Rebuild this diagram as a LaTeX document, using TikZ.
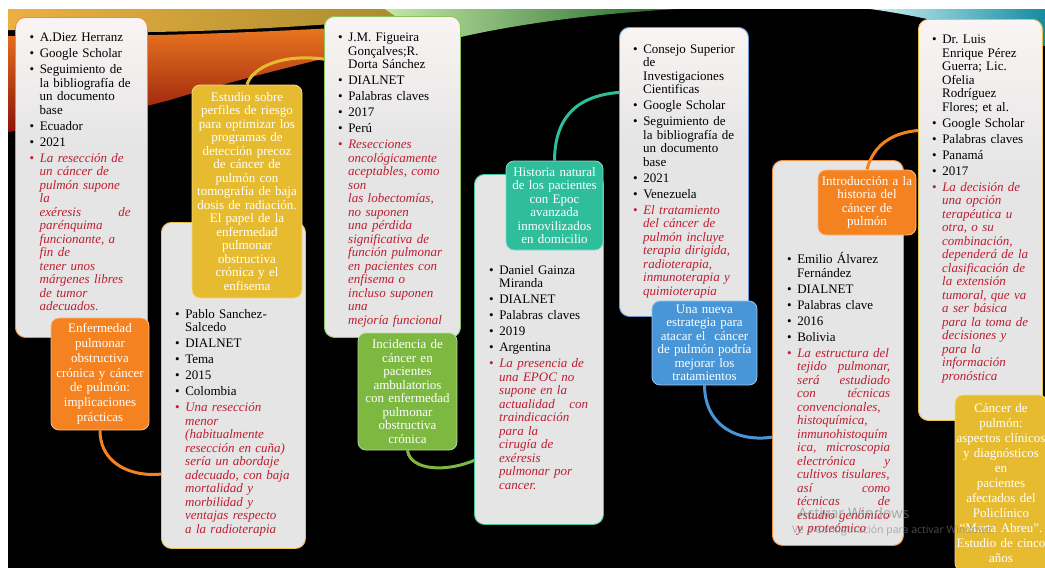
\documentclass[tikz,border=0pt]{standalone}
\usepackage{fontspec}
\setmainfont{Liberation Serif}
\newfontfamily\wmfont{Open Sans}
\pgfdeclarelayer{bgl}
\pgfdeclarelayer{conn}
\pgfdeclarelayer{conntwo}
\pgfdeclarelayer{gboxlayer}
\pgfdeclarelayer{fore}
\pgfsetlayers{bgl,conn,main,conntwo,gboxlayer,fore}

\definecolor{bgray}{RGB}{229,229,229}
\definecolor{btop}{RGB}{250,244,244}
\definecolor{rtext}{RGB}{190,30,48}
\definecolor{cOrange}{RGB}{245,130,32}
\definecolor{cYellow}{RGB}{231,187,48}
\definecolor{cGreen}{RGB}{125,185,65}
\definecolor{cTeal}{RGB}{46,190,155}
\definecolor{cBlue}{RGB}{72,150,215}
\definecolor{lOrange}{RGB}{240,140,60}
\definecolor{lYellow}{RGB}{232,192,70}
\definecolor{lGreen}{RGB}{140,195,90}
\definecolor{lTeal}{RGB}{70,195,165}
\definecolor{lBlue}{RGB}{100,155,210}
\definecolor{sGold}{RGB}{236,176,66}
\definecolor{sGoldD}{RGB}{150,130,40}
\definecolor{sOrange}{RGB}{244,128,34}
\definecolor{sRed}{RGB}{140,18,10}
\definecolor{sGreenL}{RGB}{195,232,165}
\definecolor{sGreenD}{RGB}{30,100,40}
\definecolor{sTealL}{RGB}{205,240,245}
\definecolor{sTealD}{RGB}{20,140,160}

\pgfdeclareverticalshading{boxshade}{100bp}{color(0bp)=(bgray); color(55bp)=(bgray); color(75bp)=(btop); color(100bp)=(btop)}

\newenvironment{blist}{\begin{list}{\textbullet}{\setlength{\leftmargin}{10pt}\setlength{\labelwidth}{4.5pt}\setlength{\labelsep}{5.5pt}\setlength{\itemsep}{2.5pt}\setlength{\parsep}{0pt}\setlength{\topsep}{0pt}\setlength{\partopsep}{0pt}\setlength{\itemindent}{0pt}\setlength{\listparindent}{0pt}}}{\end{list}}
\newcommand{\ritem}{\item[\textcolor{rtext}{\textbullet}]\leavevmode\color{rtext}\itshape}

\tikzset{
  panel/.style={rounded corners=10pt, line width=0.9pt, draw=#1, fill=bgray, anchor=north west, inner sep=0pt},
  panelshade/.style={panel=#1, shade, shading=boxshade},
  cnode/.style={rounded corners=8pt, fill=#1, draw=#1!55!white, line width=0.8pt, text=white, align=center, inner sep=0pt, font=\fontsize{13}{13.5}\selectfont},
  link/.style={line width=3pt, draw=#1},
  txt/.style={anchor=north west, inner sep=0pt, text width=#1, align=left, font=\fontsize{13}{13.5}\selectfont\frenchspacing},
  wm/.style={anchor=west, inner sep=0pt, text=gray, text opacity=0.6}
}

\begin{document}
\frenchspacing
\begin{tikzpicture}[x=1pt,y=-1pt]
\useasboundingbox (0,0) rectangle (1045,568);

% ---------- background ----------
\begin{pgfonlayer}{bgl}
\fill[white] (0,0) rectangle (1045,568);
\fill[black] (8,9) rectangle (1045,568);
\shade[left color=sGold, right color=sGoldD] (8,9) -- (520,9) .. controls (420,16) and (300,30) .. (150,32) .. controls (90,33) and (40,31) .. (8,30) -- cycle;
\shade[top color=sOrange, bottom color=sRed] (8,36) .. controls (150,38) and (350,30) .. (500,16) .. controls (380,45) and (250,75) .. (170,100) .. controls (110,116) and (50,126) .. (8,132) -- cycle;
\shade[left color=sGreenL, right color=sGreenD] (385,9) -- (680,9) .. controls (600,13) and (510,24) .. (440,42) .. controls (420,32) and (400,20) .. (385,9) -- cycle;
\shade[left color=sTealL, right color=sTealD] (870,9) -- (1045,9) -- (1045,46) .. controls (990,34) and (930,17) .. (870,9) -- cycle;
\end{pgfonlayer}

% ---------- boxes ----------
\node[panelshade=lOrange, minimum width=132pt, minimum height=320pt] (bA) at (15,17) {};
\node[panel=lYellow, minimum width=144pt, minimum height=326pt] (bB) at (161,222) {};
\node[panelshade=lGreen, minimum width=136pt, minimum height=321pt] (bC) at (324,16) {};
\node[panel=lTeal, minimum width=129pt, minimum height=350pt] (bD) at (474,174) {};
\node[panelshade=lBlue, minimum width=129pt, minimum height=289pt] (bE) at (619,27) {};
\node[panel=lOrange, minimum width=131pt, minimum height=385pt] (bF) at (772,160) {};
\begin{pgfonlayer}{gboxlayer}
\node[panelshade=lYellow, minimum width=124pt, minimum height=401pt] (bG) at (918,19) {};
\end{pgfonlayer}

\begin{pgfonlayer}{fore}
% ---------- box contents ----------
\node[txt=101pt] (tA) at (29.5,28) {\begin{blist}
\item A.Diez Herranz
\item Google Scholar
\item Seguimiento de\\ la bibliografía de\\ un documento\\ base
\item Ecuador
\item 2021
\ritem La resección de\\ un cáncer de\\ pulmón supone\\ la\\ exéresis\hfill de\\ parénquima\\ funcionante, a\\ fin de\\ tener unos\\ márgenes libres\\ de tumor\\ adecuados.
\end{blist}};

\node[txt=116pt] (tB) at (175,304.5) {\begin{blist}
\item Pablo Sanchez-\\Salcedo
\item DIALNET
\item Tema
\item 2015
\item Colombia
\ritem Una resección\\ menor\\ (habitualmente\\ resección en cuña)\\ sería un abordaje\\ adecuado, con baja\\ mortalidad y\\ morbilidad y\\ ventajas respecto\\ a la radioterapia
\end{blist}};

\node[txt=107pt] (tC) at (338,28) {\begin{blist}
\item J.M. Figueira\\ Gonçalves;R.\\ Dorta Sánchez
\item DIALNET
\item Palabras claves
\item 2017
\item Perú
\ritem Resecciones\\ oncológicamente\\ aceptables, como\\ son\\ las lobectomías,\\ no suponen\\ una pérdida\\ significativa de\\ función pulmonar\\ en pacientes con\\ enfisema o\\ incluso suponen\\ una\\ mejoría funcional
\end{blist}};

\node[txt=99pt] (tD) at (489,260.5) {\begin{blist}
\item Daniel Gainza\\ Miranda
\item DIALNET
\item Palabras claves
\item 2019
\item Argentina
\ritem La presencia de\\ una EPOC no\\ supone en la\\ actualidad\hfill con\\ traindicación\\ para la\\ cirugía de\\ exéresis\\ pulmonar por\\ cancer.
\end{blist}};

\node[txt=103pt] (tE) at (633,39.5) {\begin{blist}
\item Consejo Superior\\ de\\ Investigaciones\\ Cientificas
\item Google Scholar
\item Seguimiento de\\ la bibliografía de\\ un documento\\ base
\item 2021
\item Venezuela
\ritem El tratamiento\\ del cáncer de\\ pulmón incluye\\ terapia dirigida,\\ radioterapia,\\ inmunoterapia y\\ quimioterapia
\end{blist}};

\node[txt=103pt] (tF) at (787,250) {\begin{blist}
\item Emilio Álvarez\\ Fernández
\item DIALNET
\item Palabras clave
\item 2016
\item Bolivia
\ritem La estructura del\\ tejido\hfill pulmonar,\\ será\hfill estudiado\\ con\hfill técnicas\\ convencionales,\\ histoquímica,\\ inmunohistoquím\\ ica,\hfill microscopia\\ electrónica\hfill y\\ cultivos tisulares,\\ así\hfill como\\ técnicas\hfill de\\ estudio genómico\\ y proteómico
\end{blist}};

\node[txt=100pt] (tG) at (932,30) {\begin{blist}
\item Dr. Luis\\ Enrique Pérez\\ Guerra; Lic.\\ Ofelia\\ Rodríguez\\ Flores; et al.
\item Google Scholar
\item Palabras claves
\item Panamá
\item 2017
\ritem La decisión de\\ una opción\\ terapéutica u\\ otra, o su\\ combinación,\\ dependerá de la\\ clasificación de\\ la extensión\\ tumoral, que va\\ a ser básica\\ para la toma de\\ decisiones y\\ para la\\ información\\ pronóstica
\end{blist}};

% ---------- coloured title nodes ----------
\node[cnode=cOrange, text width=98pt, minimum height=112pt, font=\fontsize{13}{14.8}\selectfont] (o1) at (100,374) {Enfermedad\\ pulmonar\\ obstructiva\\ crónica y cáncer\\ de pulmón:\\ implicaciones\\ prácticas};
\node[cnode=cYellow, text width=110pt, minimum height=213pt] (y1) at (247,191.5) {Estudio sobre\\ perfiles de riesgo\\ para optimizar los\\ programas de\\ detección precoz\\ de cáncer de\\ pulmón con\\ tomografía de baja\\ dosis de radiación.\\ El papel de la\\ enfermedad\\ pulmonar\\ obstructiva\\ crónica y el\\ enfisema};
\node[cnode=cGreen, text width=99pt, minimum height=117pt] (g1) at (407.5,391.5) {Incidencia de\\ cáncer en\\ pacientes\\ ambulatorios\\ con enfermedad\\ pulmonar\\ obstructiva\\ crónica};
\node[cnode=cTeal, text width=97pt, minimum height=89pt] (t1) at (554.5,205.5) {Historia natural\\ de los pacientes\\ con Epoc\\ avanzada\\ inmovilizados\\ en domicilio};
\node[cnode=cBlue, text width=105pt, minimum height=84pt] (b1) at (704.5,343) {Una nueva\\ estrategia para\\ atacar el\ \ cáncer\\ de pulmón podría\\ mejorar los\\ tratamientos};
\node[cnode=cOrange, text width=98pt, minimum height=65pt] (o2) at (867,202.5) {Introducción a la\\ historia del\\ cáncer de\\ pulmón};
\node[cnode=cYellow, text width=92pt, minimum height=176pt, font=\fontsize{13}{15}\selectfont] (y2) at (1001,483) {Cáncer de\\ pulmón:\\ aspectos clínicos\\ y diagnósticos\\ en\\ pacientes\\ afectados del\\ Policlínico\\ “Marta Abreu”.\\ Estudio de cinco\\ años};

% ---------- watermark ----------
\node[wm, font=\wmfont\fontsize{14.5}{16}\selectfont] (wm1) at (798,513) {Activar Windows};
\node[wm, font=\wmfont\fontsize{10.5}{12}\selectfont] (wm2) at (792,531) {Ve a Configuración para activar Windows.};
\end{pgfonlayer}

% ---------- connectors ----------
\begin{pgfonlayer}{conn}
\draw[link=cYellow] (y1.north) .. controls +(5,-17) and +(-47,-8) .. ([shift={(6,44)}]bC.north west);
\draw[link=cOrange] (o1.south) .. controls +(0,55) and +(-18,34) .. ([shift={(42,229)}]bB.north west);
\draw[link=cGreen] (g1.south) .. controls +(2.5,25) and +(-35,35) .. ([shift={(31,266)}]bD.north west);
\draw[link=cTeal] (t1.north) .. controls +(0.5,-51) and +(-55,-2) .. ([shift={(21,65)}]bE.north west);
\draw[link=cBlue] (b1.south) .. controls +(0.5,55) and +(-40,25) .. ([shift={(33,265)}]bF.north west);
\end{pgfonlayer}
\begin{pgfonlayer}{conntwo}
\draw[link=cOrange] (o2.north) .. controls +(8,-32) and +(-45,-7) .. ([shift={(32,113)}]bG.north west);
\end{pgfonlayer}
\end{tikzpicture}
\end{document}
